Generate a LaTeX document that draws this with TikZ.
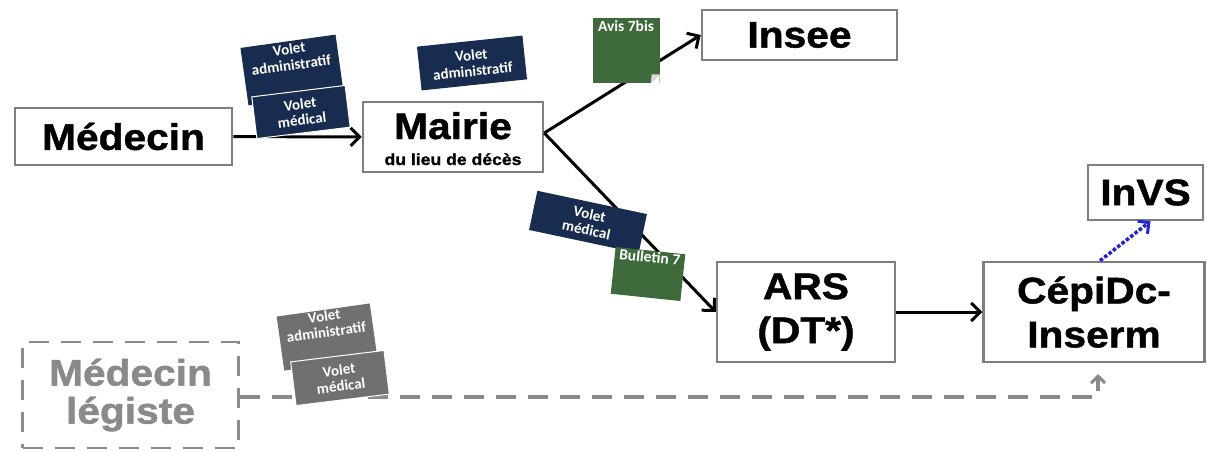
\documentclass[tikz,border=0pt]{standalone}
\usepackage{fontspec}
\setmainfont{Liberation Sans}
\newfontfamily\hd[FakeStretch=1.1,FakeBold=1.2]{Liberation Sans}
\newfontfamily\docfont{Carlito}
\usetikzlibrary{arrows.meta}
\definecolor{navy}{HTML}{172C4F}
\definecolor{docgreen}{HTML}{3E6A3B}
\definecolor{docgray}{HTML}{707070}
\definecolor{boxgray}{HTML}{7F7F7F}
\definecolor{leggray}{HTML}{8A8A8A}
\definecolor{dotblue}{HTML}{2222DD}
\tikzset{
  entity/.style={draw=boxgray, line width=2.5pt, fill=white, inner sep=0pt,
    font=\hd\bfseries\fontsize{37}{44}\selectfont, align=center},
  flow/.style={line width=3pt, -{Straight Barb[length=9pt,width=18pt,line width=3pt]}},
  doc/.style={fill=navy, text=white, inner sep=1pt, align=center,
    font=\docfont\bfseries\fontsize{15}{16}\selectfont},
  greendoc/.style={doc, fill=docgreen, font=\docfont\bfseries\fontsize{15.5}{16}\selectfont},
  graydoc/.style={doc, fill=docgray},
}
\begin{document}
\begin{tikzpicture}[x=1pt,y=-1pt]
\useasboundingbox (0,0) rectangle (1207,450);
% entities
\node[entity, minimum width=217pt, minimum height=57pt] (med) at (123.5,136.5) {Médecin};
\node[entity, minimum width=180pt, minimum height=70pt] (mairie) at (453,137) {};
\node[font=\hd\bfseries\fontsize{37}{44}\selectfont, anchor=base] (mairieT) at (453,139) {Mairie};
\node[font=\hd\bfseries\fontsize{16}{18}\selectfont, anchor=base] (mairieS) at (453,165) {du lieu de décès};
\node[entity, minimum width=195pt, minimum height=50pt] (insee) at (799.5,35) {Insee};
\node[entity, minimum width=115pt, minimum height=55pt] (invs) at (1145.5,192.5) {InVS};
\node[entity, minimum width=178pt, minimum height=100pt] (ars) at (806,312) {ARS\\(DT*)};
\node[entity, minimum width=221pt, minimum height=100pt] (cep) at (1094,312) {CépiDc-\\Inserm};
\node[entity, draw=leggray, dash pattern=on 20pt off 12pt, text=leggray,
  minimum width=216pt, minimum height=106pt,
  font=\hd\bfseries\fontsize{37}{38}\selectfont] (leg) at (130.5,395) {Médecin\\légiste};
% connectors
\draw[flow] (med) -- (mairie);
\draw[flow] ([yshift=4pt]mairie.east) -- (insee.west);
\draw[flow] ([yshift=4pt]mairie.east) -- (ars.west);
\draw[flow] (ars) -- (cep);
\draw[line width=3.5pt, dotted, dotblue, -{Straight Barb[length=8pt,width=16pt,line width=3pt]}]
  ([xshift=6pt]cep.north) -- ([xshift=5pt]invs.south);
\coordinate (legend) at (1098,374);
\draw[line width=4pt, leggray, dash pattern=on 20pt off 12pt,
  -{Straight Barb[length=7pt,width=14pt,line width=3pt]}]
  (leg.east |- 0,397) -- (1098,397) -- (legend);
% documents
\node[doc, rotate=8, minimum width=96pt, minimum height=58pt] (d1) at (292,70) {Volet\\administratif\\[10pt]};
\node[doc, draw=white, line width=1pt, rotate=7, minimum width=94pt, minimum height=42pt] (d2) at (301,112) {Volet\\médical};
\node[doc, rotate=6, minimum width=106pt, minimum height=44pt] (d3) at (472,63) {Volet\\administratif};
\node[greendoc, minimum width=67pt, minimum height=65pt, anchor=north] (d4) at (626,18) {Avis 7bis\\[34pt]};
\fill[white] (d4.south east) -- ++(-9,0) -- ++(9,-9) -- cycle;
\fill[white!85!black] (d4.south east) ++(-9,0) -- ++(9,-9) -- ++(-8,0) -- cycle;
\node[doc, rotate=-12, minimum width=112pt, minimum height=40pt] (d5) at (588,222) {Volet\\médical};
\node[greendoc, rotate=-6, minimum width=70pt, minimum height=47pt] (d6) at (648,274) {Bulletin 7\\[18pt]};
\node[graydoc, rotate=8, minimum width=94pt, minimum height=54pt] (d7) at (327,337) {Volet\\administratif\\[10pt]};
\node[graydoc, draw=white, line width=1pt, rotate=7, minimum width=94pt, minimum height=44pt] (d8) at (340,378) {Volet\\médical};
\end{tikzpicture}
\end{document}
